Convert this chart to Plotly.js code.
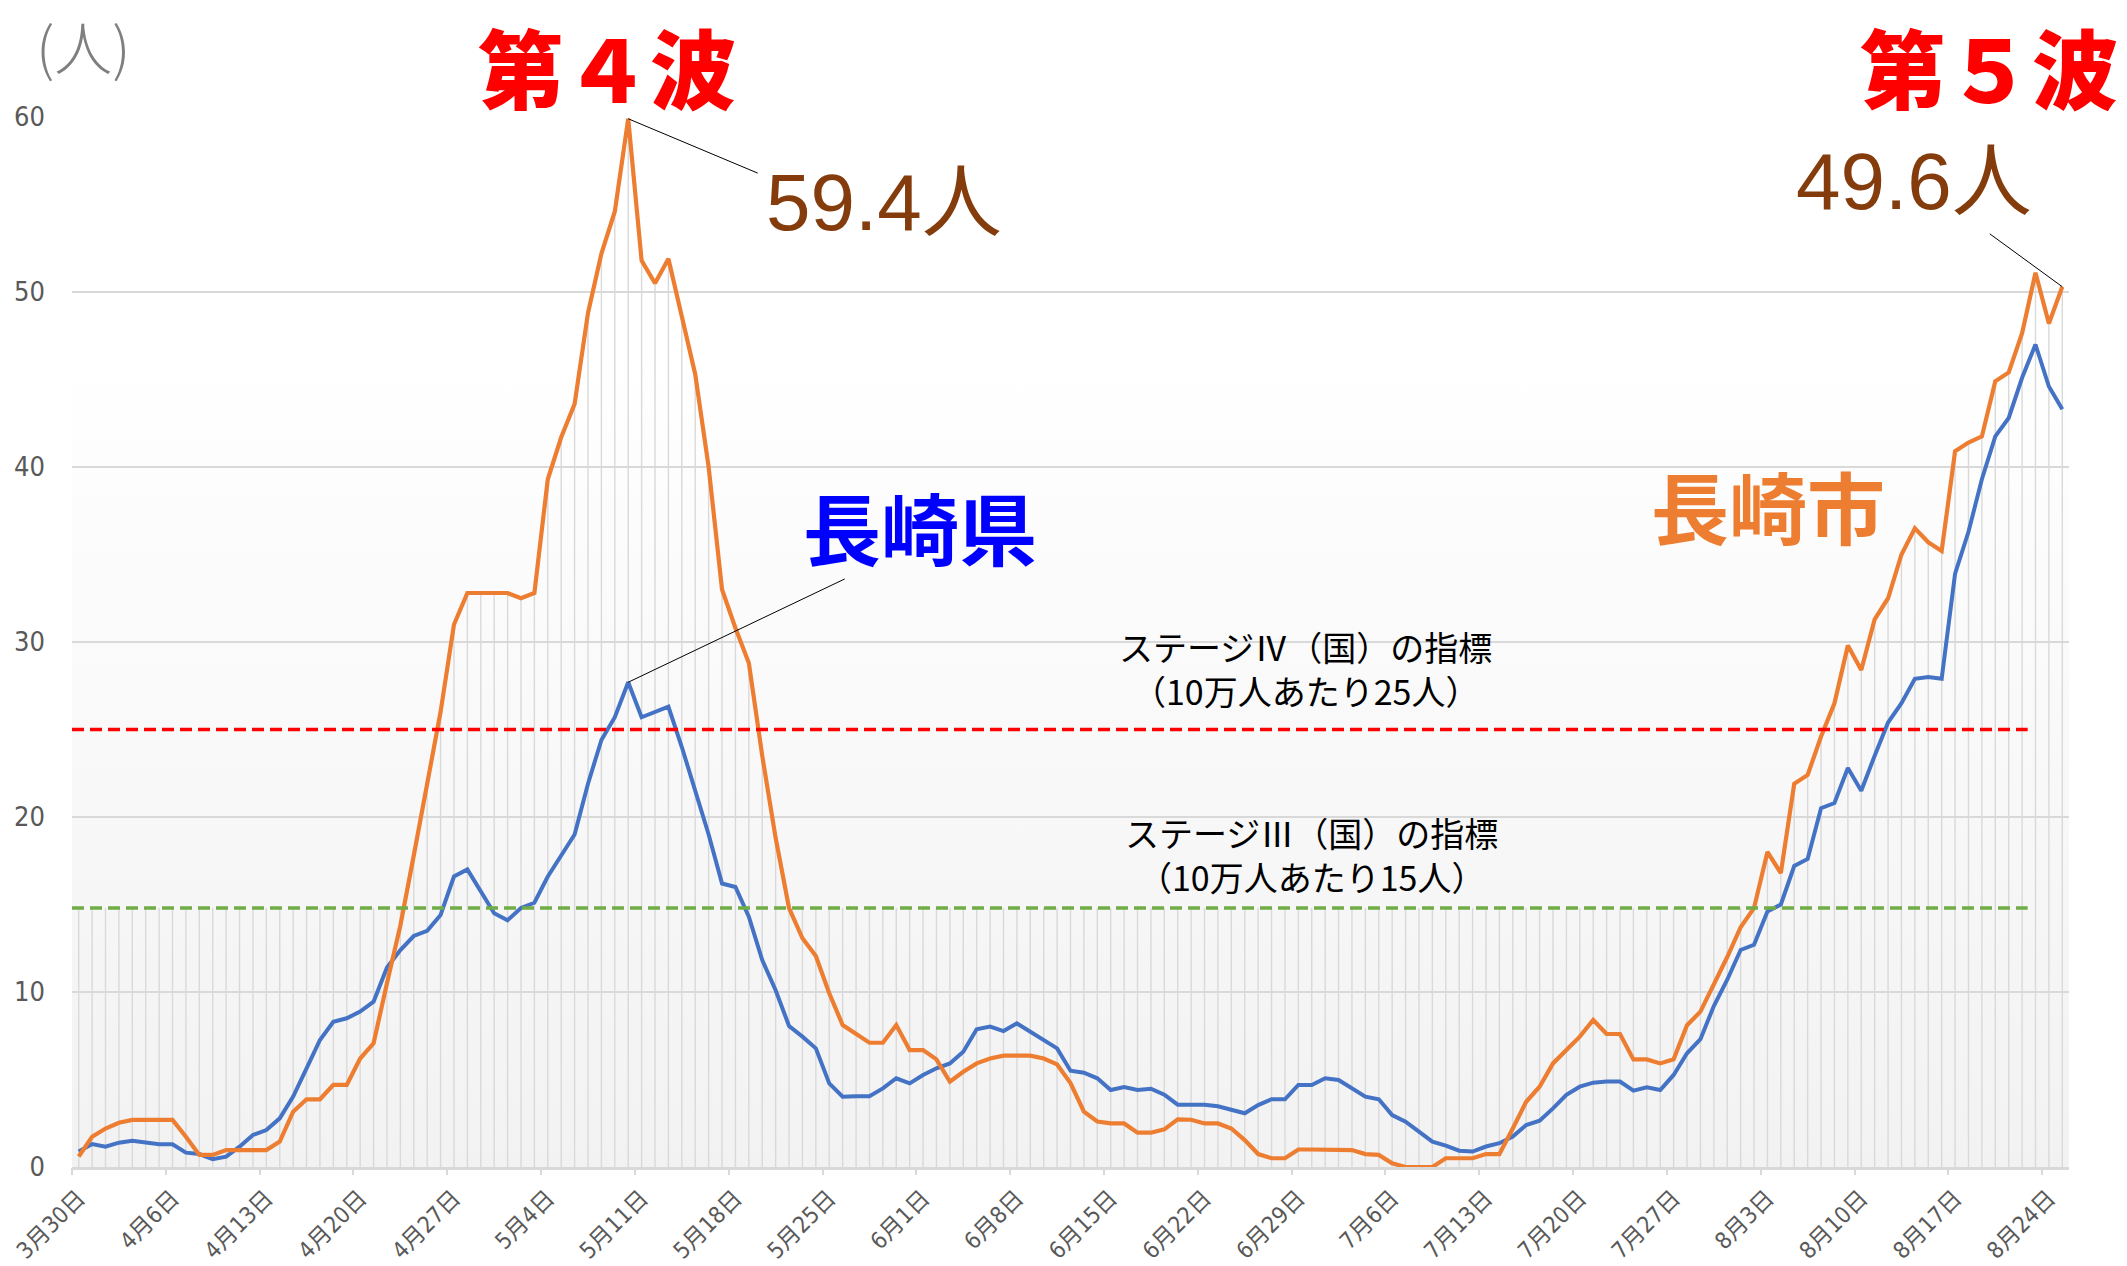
<!DOCTYPE html>
<html><head><meta charset="utf-8">
<script src="https://cdn.plot.ly/plotly-3.0.1.min.js"></script>
<style>html,body{margin:0;padding:0;background:#fff}#chart{width:2127px;height:1266px}</style>
</head><body><div id="chart"></div>
<script>
// ---- data ----
const startDate = '2021-03-30';
const dayCount = 149;
const nagasakiCity = [
0.6,1.73,2.2,2.53,2.69,2.69,2.69,2.69,1.73,0.69,
0.69,0.97,0.97,0.97,0.97,1.45,3.16,3.87,3.87,4.69,
4.69,6.2,7.07,10.5,13.8,17.8,22,26,31,32.8,
32.8,32.8,32.8,32.5,32.8,39.3,41.7,43.6,48.8,52.2,
54.6,59.9,51.8,50.5,51.9,48.6,45.3,40,33,30.8,
28.8,23.5,18.8,14.8,13.07,12.06,9.93,8.11,7.58,7.1,
7.1,8.11,6.68,6.68,6.15,4.87,5.44,5.92,6.2,6.36,
6.36,6.36,6.2,5.86,4.8,3.16,2.6,2.49,2.49,1.96,
1.96,2.15,2.72,2.7,2.49,2.49,2.2,1.54,0.74,0.5,
0.5,1,1,1,1,0.97,0.74,0.69,0.21,0,
0,0,0.5,0.5,0.5,0.74,0.74,2.2,3.73,4.59,
5.92,6.69,7.45,8.4,7.6,7.6,6.15,6.15,5.92,6.15,
8.1,8.88,10.4,12,13.7,14.8,18,16.8,21.9,22.4,
24.6,26.5,29.8,28.4,31.3,32.5,35,36.5,35.7,35.2,
40.9,41.4,41.75,44.9,45.4,47.65,51.1,48.2,50.3];
const nagasakiPref = [
0.88,1.31,1.16,1.39,1.5,1.39,1.3,1.3,0.82,0.74,
0.44,0.59,1.16,1.83,2.11,2.78,4.02,5.64,7.26,8.3,
8.5,8.88,9.45,11.4,12.4,13.2,13.5,14.4,16.6,17,
15.7,14.5,14.1,14.8,15.1,16.6,17.8,19,21.9,24.4,
25.7,27.7,25.7,26,26.3,24,21.5,19,16.2,16,
14.3,11.83,10.1,8.06,7.45,6.78,4.78,4.02,4.05,4.05,
4.49,5.07,4.78,5.26,5.64,5.92,6.59,7.87,8.02,7.77,
8.21,7.73,7.3,6.78,5.5,5.39,5.07,4.4,4.57,4.4,
4.47,4.13,3.56,3.56,3.56,3.47,3.28,3.07,3.54,3.87,
3.87,4.69,4.69,5.07,4.97,4.5,4.02,3.87,2.97,2.59,
2.02,1.45,1.22,0.93,0.88,1.17,1.36,1.74,2.4,2.65,
3.35,4.12,4.59,4.82,4.88,4.88,4.36,4.55,4.4,5.26,
6.5,7.3,9.2,10.7,12.4,12.7,14.6,15,17.2,17.6,
20.5,20.8,22.8,21.5,23.5,25.4,26.5,27.9,28,27.9,
33.9,36.3,39.3,41.75,42.8,45.1,47,44.6,43.3];
const tickDates = ['2021-03-30','2021-04-06','2021-04-13','2021-04-20','2021-04-27','2021-05-04','2021-05-11','2021-05-18','2021-05-25','2021-06-01','2021-06-08','2021-06-15','2021-06-22','2021-06-29','2021-07-06','2021-07-13','2021-07-20','2021-07-27','2021-08-03','2021-08-10','2021-08-17','2021-08-24'];
const tickLabels = ['3月30日','4月6日','4月13日','4月20日','4月27日','5月4日','5月11日','5月18日','5月25日','6月1日','6月8日','6月15日','6月22日','6月29日','7月6日','7月13日','7月20日','7月27日','8月3日','8月10日','8月17日','8月24日'];
const yTicks = [0,10,20,30,40,50,60];
const stageIV = 25;
const stageIII = 14.8;
const peakCityLabel = '59.4人';
const lastCityLabel = '49.6人';

// ---- helpers ----
function shiftH(iso, h){
  const t = Date.parse(iso.length > 10 ? iso.replace(' ','T')+'Z' : iso+'T00:00:00Z') + h*3600e3;
  return new Date(t).toISOString().replace('T',' ').slice(0,19);
}
const dates = [];
for (let i=0;i<dayCount;i++) dates.push(shiftH(startDate, 24*i).slice(0,10));
const xRange = [shiftH(dates[0],-12), shiftH(dates[dayCount-1],12)];
const yMax = 60;
const gradTop = 46.5;
const stageEndIdx = 145;
const stageX = [xRange[0], shiftH(dates[stageEndIdx], 10)];

// drop lines
const dx=[], dy=[];
for (let i=0;i<dayCount;i++){
  let top = Math.max(nagasakiCity[i], nagasakiPref[i]);
  if (i <= stageEndIdx) top = Math.max(top, stageIII);
  dx.push(dates[i], dates[i], null); dy.push(0, top, null);
}
let peakIdx = 0;
for (let i=0;i<100;i++) if (nagasakiCity[i] > nagasakiCity[peakIdx]) peakIdx = i;
let prefPeakIdx = 0;
for (let i=0;i<100;i++) if (nagasakiPref[i] > nagasakiPref[prefPeakIdx]) prefPeakIdx = i;
const lastIdx = dayCount-1;

const svg = "<svg xmlns='http://www.w3.org/2000/svg' width='100' height='100' preserveAspectRatio='none'><defs><linearGradient id='g' x1='0' y1='0' x2='0' y2='1'><stop offset='0' stop-color='#ffffff'/><stop offset='1' stop-color='#f2f2f2'/></linearGradient></defs><rect width='100' height='100' fill='url(#g)'/></svg>";
const svgUri = 'data:image/svg+xml;charset=utf-8,' + encodeURIComponent(svg);

const narrow = 'Liberation Sans Narrow, DejaVu Sans Condensed, Noto Sans CJK JP, sans-serif';
const cjk = 'Noto Sans CJK JP, sans-serif';

const traces = [
  {x: dx, y: dy, type:'scatter', mode:'lines', line:{color:'#d9d9d9', width:1.4}, hoverinfo:'skip', showlegend:false},
  {x: dates, y: nagasakiPref, type:'scatter', mode:'lines', name:'長崎県', line:{color:'#4472c4', width:4}, showlegend:false},
  {x: dates, y: nagasakiCity, type:'scatter', mode:'lines', name:'長崎市', line:{color:'#ed7d31', width:4.2}, showlegend:false},
  {x: stageX, y: [stageIV, stageIV], xaxis:'x2', type:'scatter', mode:'lines', line:{color:'#ff0000', width:3.5, dash:'12px,6px'}, showlegend:false},
  {x: stageX, y: [stageIII, stageIII], xaxis:'x2', type:'scatter', mode:'lines', line:{color:'#70ad47', width:3.5, dash:'12px,6px'}, showlegend:false}
];

const W = 2127, H = 1266, L = 72, R = 58, T = 117, B = 99;
const pw = W-L-R, ph = H-T-B;
const px = x => (x-L)/pw;
const py = y => (H-B-y)/ph;

function txt(text, x, y, size, color, family, weight, yanchor){
  return {text, x: px(x), y: py(y), xref:'paper', yref:'paper', showarrow:false,
    xanchor:'center', yanchor: yanchor||'middle', font:{size, color, family, weight: weight||400}};
}
function leader(xi, yv, ax, ay){
  return {x: dates[xi], y: yv, xref:'x', yref:'y', text:'', showarrow:true, arrowhead:0,
    arrowwidth:1, arrowcolor:'#000000', ax, ay, standoff:0, startstandoff:0};
}

const layout = {
  width: W, height: H,
  margin:{l:L, r:R, t:T, b:B, pad:0},
  paper_bgcolor:'#ffffff', plot_bgcolor:'rgba(0,0,0,0)',
  showlegend:false, hovermode:false,
  xaxis:{type:'date', range:xRange, tickvals:tickDates, ticktext:tickLabels, tickangle:-45,
    ticks:'', showgrid:false, zeroline:false, showline:true, linecolor:'#d9d9d9', linewidth:2.5,
    tickfont:{family:narrow, size:23, color:'#595959'}, ticklabelstandoff:6},
  xaxis2:{type:'date', range:xRange, overlaying:'x', matches:'x', tickvals:tickDates.map(d=>shiftH(d,-12)),
    ticks:'outside', ticklen:7, tickwidth:2, tickcolor:'#d9d9d9', showticklabels:false, showgrid:false, zeroline:false, showline:false},
  yaxis:{range:[0,yMax], tickvals:yTicks, ticks:'', showgrid:true, gridcolor:'#d9d9d9', gridwidth:1.5,
    zeroline:false, showline:false, tickfont:{family:narrow, size:27, color:'#595959'}, ticklabelstandoff:26},
  images:[{source:svgUri, xref:'paper', yref:'paper', x:0, y:gradTop/yMax, sizex:1, sizey:gradTop/yMax,
    xanchor:'left', yanchor:'top', sizing:'stretch', layer:'below'}],
  annotations:[
    txt('(人)', 83, 45, 58, '#7f7f7f', cjk, 300),
    txt('第４波', 607, 1, 86, '#ff0000', cjk, 900, 'top'),
    txt('第５波', 1989, 1, 86, '#ff0000', cjk, 900, 'top'),
    txt(peakCityLabel, 884, 202, 80, '#843c0c', 'Liberation Sans, Noto Sans CJK JP, sans-serif', 400),
    txt(lastCityLabel, 1914, 181, 80, '#843c0c', 'Liberation Sans, Noto Sans CJK JP, sans-serif', 400),
    txt('長崎県', 920, 526, 78, '#0000ff', cjk, 700),
    txt('長崎市', 1768, 505, 78, '#ed7d31', cjk, 700),
    txt('ステージⅣ（国）の指標<br>（10万人あたり25人）', 1305, 668, 34, '#000000', cjk, 400),
    txt('ステージⅢ（国）の指標<br>（10万人あたり15人）', 1311, 854, 34, '#000000', cjk, 400),
    leader(peakIdx, nagasakiCity[peakIdx], 131, 55),
    leader(lastIdx, nagasakiCity[lastIdx], -74, -54),
    leader(prefPeakIdx, nagasakiPref[prefPeakIdx], 218, -104)
  ]
};
Plotly.newPlot('chart', traces, layout, {staticPlot:true, displayModeBar:false});
</script></body></html>
